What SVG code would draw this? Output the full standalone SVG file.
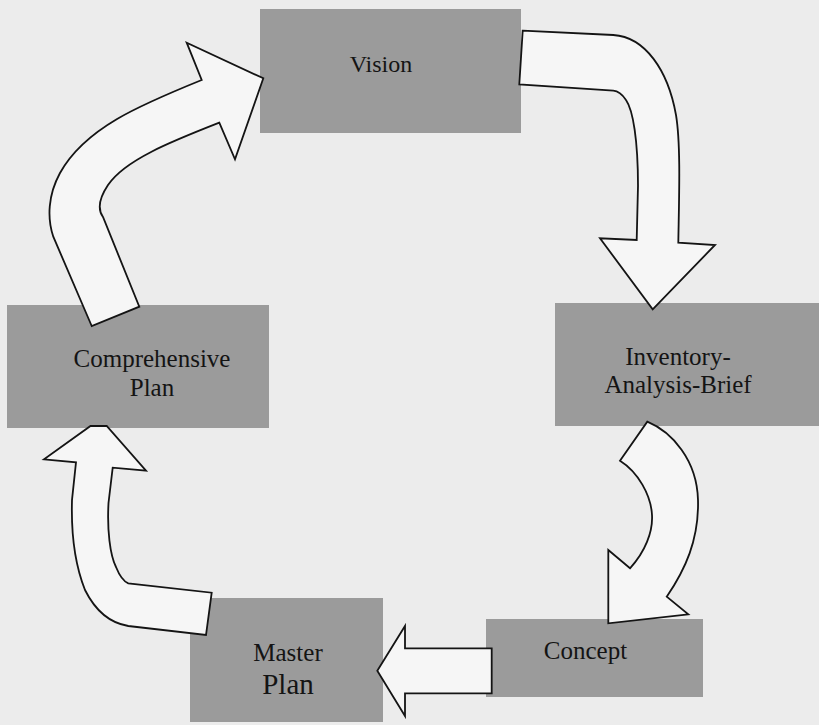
<svg xmlns="http://www.w3.org/2000/svg" width="819" height="725" viewBox="0 0 819 725">
<style>
.box{fill:#9b9b9b;}
.lbl{font-family:"Liberation Serif","Times New Roman",serif;font-size:25px;fill:#141414;text-anchor:middle;}
.arr{fill:#f6f6f6;stroke:#141414;stroke-width:1.8;stroke-linejoin:miter;}
</style>
<rect x="0" y="0" width="819" height="725" fill="#ececec"/>
<g id="vision">
<rect class="box" x="260" y="9" width="261" height="124"/>
<text class="lbl" x="381" y="72" style="font-size:24px">Vision</text>
</g>
<g id="inventory">
<rect class="box" x="555" y="303" width="264" height="123"/>
<text class="lbl" x="678" y="365">Inventory-</text>
<text class="lbl" x="678" y="393">Analysis-Brief</text>
</g>
<g id="concept">
<rect class="box" x="486" y="619" width="217" height="78"/>
<text class="lbl" x="585.5" y="659">Concept</text>
</g>
<g id="masterplan">
<rect class="box" x="190" y="598" width="193" height="124"/>
<text class="lbl" x="288" y="661">Master</text>
<text class="lbl" x="288" y="694" style="font-size:29px">Plan</text>
</g>
<g id="comprehensive">
<rect class="box" x="7" y="305" width="262" height="123"/>
<text class="lbl" x="152" y="367">Comprehensive</text>
<text class="lbl" x="152" y="396">Plan</text>
</g>
<g id="connectors">
<path class="arr" d="M 91.7,326 L 53.3,236.7 C 47,218 48,195 60,173 C 85,128 140,105 201.7,80 L 186.7,42.7 L 263.3,78.3 L 235,159.3 L 219.3,122.7 C 170,142 125,160 108,185 C 98,200 98,210 103,217 L 139.3,306.7 Z"/>
<path class="arr" d="M 522.7,30.7 L 613.3,35 C 645,37 668,70 676,115 C 681,145 679,200 678.3,242.7 L 715,245 L 652.7,309.3 L 600,238.3 L 636.7,240 L 638,186 C 638,140 633,110 626,100 C 622,94 618,91 613.3,90.7 L 519.3,84.3 Z"/>
<path class="arr" d="M 647.3,421.7 C 672,432 697,460 698,500 C 699,540 685,570 666.7,596.7 L 688.3,614.3 L 608.3,623.3 L 608.3,550 L 630,568.3 C 645,552 653,532 652,515 C 651,495 638,472 620,460.7 Z"/>
<path class="arr" d="M 491.7,648.3 L 405,648.3 L 405,626 L 377.3,670.7 L 405,716 L 405,693.3 L 491.7,693.3 Z"/>
<path class="arr" d="M 211.7,592.7 L 206,635 L 128.3,626 C 110,623 95,610 85,590 C 75,565 71,535 72,500 L 76,462.3 L 44,459.3 L 90.5,426 L 106.7,426 L 146,470.7 L 112.7,467.7 L 108.5,503 C 107,530 110,555 116,567 C 120,577 125,582 128.3,583.3 Z"/>
</g>
</svg>
